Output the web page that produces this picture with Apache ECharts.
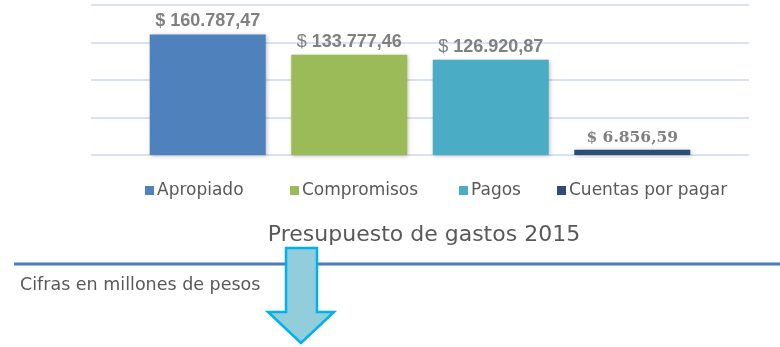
<!DOCTYPE html>
<html>
<head>
<meta charset="utf-8">
<script src="https://cdn.jsdelivr.net/npm/echarts@6/dist/echarts.min.js"></script>
<style>
  html, body { margin: 0; padding: 0; background: #ffffff; }
  #chart { width: 780px; height: 347px; }
</style>
</head>
<body>
<div id="chart"></div>
<script>
// Budget execution 2015 (millions of pesos)
const categories = ['Presupuesto de gastos 2015'];
const seriesNames = ['Apropiado', 'Compromisos', 'Pagos', 'Cuentas por pagar'];
const seriesValues = [160787.47, 133777.46, 126920.87, 6856.59];
const seriesColors = ['#4f81bd', '#9bbb59', '#4bacc6', '#2c4d75'];
const yTicks = { min: 0, max: 200000, interval: 50000 };
const titleText = 'Presupuesto de gastos 2015';
const noteText = 'Cifras en millones de pesos';

// Spanish number formatting: 160.787,47
function fmt(v) {
  const parts = v.toFixed(2).split('.');
  const intPart = parts[0].replace(/\B(?=(\d{3})+(?!\d))/g, '.');
  return intPart + ',' + parts[1];
}

const baseFont = 'DejaVu Sans';
const labelFont = 'Liberation Sans';

const series = seriesNames.map((name, i) => {
  const serifLabel = i === 3;
  return {
    name: name,
    type: 'bar',
    data: [seriesValues[i]],
    barWidth: 116,
    barGap: '22%',
    itemStyle: {
      color: seriesColors[i],
      shadowColor: 'rgba(0,0,0,0.25)',
      shadowBlur: 4,
      shadowOffsetX: 1,
      shadowOffsetY: 1
    },
    label: {
      show: true,
      position: 'top',
      distance: 4,
      formatter: p => (i === 0 || serifLabel)
        ? '{b|$ ' + fmt(p.value) + '}'
        : '{d|$ }{b|' + fmt(p.value) + '}',
      rich: {
        d: { fontFamily: labelFont, fontSize: 18, color: '#808080', fontWeight: 'normal' },
        b: {
          fontFamily: serifLabel ? 'DejaVu Serif' : labelFont,
          fontSize: serifLabel ? 15.5 : 18,
          color: '#808080',
          fontWeight: 'bold'
        }
      }
    }
  };
});

// One legend block per series so each entry sits at its own spot
const legendLefts = [140, 285, 454, 552];
const legends = seriesNames.map((name, i) => ({
  data: [name],
  left: legendLefts[i],
  top: 177,
  itemWidth: 9,
  itemHeight: 9,
  icon: 'rect',
  textStyle: { fontFamily: baseFont, fontSize: 17, color: '#595959', padding: [0, 0, 0, -2] }
}));

const chart = echarts.init(document.getElementById('chart'), null, { renderer: 'canvas' });
chart.setOption({
  animation: false,
  backgroundColor: '#ffffff',
  color: seriesColors,
  title: {
    text: titleText,
    left: 419,
    textAlign: 'center',
    top: 219,
    textStyle: { fontFamily: baseFont, fontSize: 22, fontWeight: 'normal', color: '#595959' }
  },
  legend: legends,
  grid: { left: 91, right: 31, top: 5, bottom: 192, containLabel: false },
  xAxis: {
    type: 'category',
    data: categories,
    axisLine: { show: false },
    axisTick: { show: false },
    axisLabel: { show: false }
  },
  yAxis: {
    type: 'value',
    min: yTicks.min,
    max: yTicks.max,
    interval: yTicks.interval,
    axisLabel: { show: false },
    axisLine: { show: false },
    axisTick: { show: false },
    splitLine: { lineStyle: { color: '#d9e2f3', width: 2 } }
  },
  series: series,
  graphic: [
    {
      type: 'line',
      shape: { x1: 14, y1: 264, x2: 780, y2: 264 },
      style: { stroke: '#4a7ebb', lineWidth: 3 },
      z: 10
    },
    {
      type: 'text',
      left: 20,
      top: 276,
      style: { text: noteText, fontFamily: baseFont, fontSize: 17.5, fill: '#595959' },
      z: 10
    },
    {
      type: 'polygon',
      shape: {
        points: [[286, 248], [317, 248], [317, 312], [334, 312], [301, 343], [268, 312], [286, 312]]
      },
      style: { fill: '#92cddc', stroke: '#00b0f0', lineWidth: 2.5, lineJoin: 'miter' },
      z: 20
    }
  ]
});
</script>
</body>
</html>
